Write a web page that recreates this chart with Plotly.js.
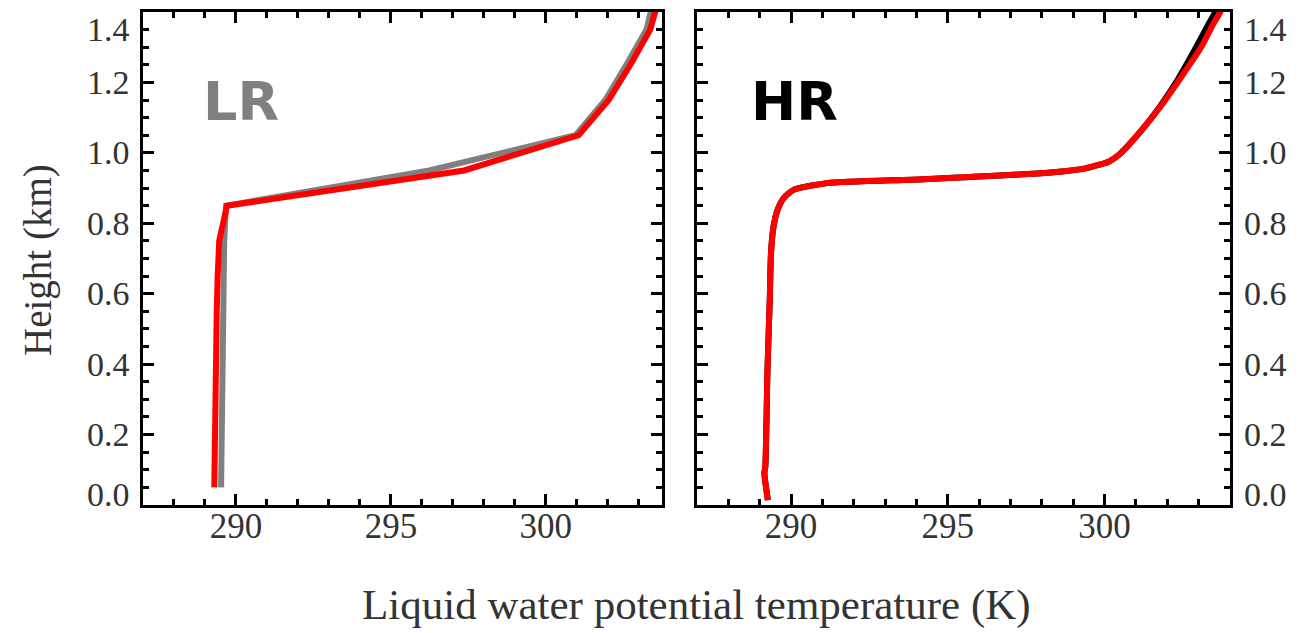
<!DOCTYPE html>
<html><head><meta charset="utf-8">
<script src="https://cdn.plot.ly/plotly-3.0.1.min.js"></script>
<style>html,body{margin:0;padding:0;background:#fff}</style>
</head><body>
<div id="chart" style="width:1304px;height:633px"></div>
<script>
// Low resolution (LR) profiles
const lrHeight = [0.05, 0.15, 0.25, 0.35, 0.45, 0.55, 0.65, 0.75, 0.85, 0.95, 1.05, 1.15, 1.25, 1.35, 1.45];
const lrGrey   = [289.52, 289.53, 289.54, 289.55, 289.56, 289.57, 289.59, 289.62, 289.68, 296.24, 300.96, 301.92, 302.60, 303.25, 303.52];
const lrRed    = [289.30, 289.31, 289.33, 289.34, 289.36, 289.38, 289.41, 289.46, 289.71, 297.36, 301.06, 302.03, 302.73, 303.37, 303.69];

// High resolution (HR) profiles
const hrHeight = [0.014, 0.09, 0.11, 0.39, 0.58, 0.715, 0.79, 0.838, 0.871, 0.895, 0.914, 0.925, 0.944, 0.956, 0.975, 0.994, 1.06, 1.131, 1.212, 1.297, 1.368, 1.40, 1.45];
const hrBlack  = [289.26, 289.15, 289.18, 289.25, 289.32, 289.36, 289.44, 289.57, 289.76, 290.08, 291.15, 294.23, 298.27, 299.39, 300.13, 300.45, 301.14, 301.76, 302.36, 302.90, 303.33, 303.53, 303.78];
const hrRed    = [289.26, 289.15, 289.18, 289.25, 289.32, 289.36, 289.44, 289.57, 289.76, 290.08, 291.15, 294.23, 298.27, 299.39, 300.13, 300.45, 301.14, 301.78, 302.42, 303.06, 303.48, 303.69, 303.95];

const yTickVals = [0.0, 0.2, 0.4, 0.6, 0.8, 1.0, 1.2, 1.4];
const yTickText = ['0.0', '0.2', '0.4', '0.6', '0.8', '1.0', '1.2', '1.4'];
const panelLabels = ['LR', 'HR'];
const xTitle = 'Liquid water potential temperature (K)';
const yTitle = 'Height (km)';

const W = 1304, H = 633;
const serif = 'Liberation Serif, Times New Roman, serif';
const txtCol = '#333333';

const traces = [
  {x: lrGrey, y: lrHeight, xaxis: 'x', yaxis: 'y', mode: 'lines', line: {color: '#808080', width: 6}, hoverinfo: 'skip'},
  {x: lrRed,  y: lrHeight, xaxis: 'x', yaxis: 'y', mode: 'lines', line: {color: '#ff0000', width: 6}, hoverinfo: 'skip'},
  {x: hrBlack, y: hrHeight, xaxis: 'x2', yaxis: 'y2', mode: 'lines', line: {color: '#000000', width: 6, shape: 'spline', smoothing: 0.6}, hoverinfo: 'skip'},
  {x: hrRed,   y: hrHeight, xaxis: 'x2', yaxis: 'y2', mode: 'lines', line: {color: '#ff0000', width: 6, shape: 'spline', smoothing: 0.6}, hoverinfo: 'skip'}
];

function xax(domain, range, anchor) {
  return {
    domain: domain, range: range, anchor: anchor,
    tickmode: 'linear', tick0: 290, dtick: 5,
    ticks: 'inside', ticklen: 11, tickwidth: 3, tickcolor: '#000',
    minor: {tickmode: 'linear', tick0: 0, dtick: 1, ticks: 'inside', ticklen: 6, tickwidth: 3, tickcolor: '#000'},
    showline: true, linewidth: 3, linecolor: '#000', mirror: 'ticks',
    showgrid: false, zeroline: false,
    ticklabelstandoff: -12,
    tickfont: {family: serif, size: 35, color: txtCol}
  };
}
function yax(domain, anchor) {
  return {
    domain: domain, range: [0, 1.4], anchor: anchor,
    tickmode: 'linear', tick0: 0, dtick: 0.2,
    ticks: 'inside', ticklen: 11, tickwidth: 3, tickcolor: '#000',
    minor: {tickmode: 'linear', tick0: 0, dtick: 0.05, ticks: 'inside', ticklen: 6, tickwidth: 3, tickcolor: '#000'},
    showline: true, linewidth: 3, linecolor: '#000', mirror: 'ticks',
    showgrid: false, zeroline: false, showticklabels: false
  };
}

const yDom = [1 - 505 / H, 1 - 12 / H];
const annotations = [];
yTickVals.forEach((v, i) => {
  const shift = v === 0 ? 11 : (Math.abs(v - 1.4) < 1e-9 ? -18 : 0);
  annotations.push({xref: 'paper', yref: 'y', x: 132 / W, y: v, yshift: shift, xanchor: 'right', yanchor: 'middle',
    text: yTickText[i], showarrow: false, font: {family: serif, size: 34, color: txtCol}});
  annotations.push({xref: 'paper', yref: 'y2', x: 1242 / W, y: v, yshift: shift, xanchor: 'left', yanchor: 'middle',
    text: yTickText[i], showarrow: false, font: {family: serif, size: 34, color: txtCol}});
});
annotations.push({xref: 'paper', yref: 'paper', x: 696 / W, y: 1 - 605 / H, xanchor: 'center', yanchor: 'middle',
  text: xTitle, showarrow: false, font: {family: serif, size: 43, color: txtCol}});
annotations.push({xref: 'paper', yref: 'paper', x: 38 / W, y: 1 - 260 / H, xanchor: 'center', yanchor: 'middle',
  text: yTitle, textangle: -90, showarrow: false, font: {family: serif, size: 39, color: txtCol}});
annotations.push({xref: 'paper', yref: 'paper', x: 201 / W, y: 1 - 101 / H, xanchor: 'left', yanchor: 'middle',
  text: '<b>' + panelLabels[0] + '</b>', showarrow: false, font: {family: 'DejaVu Sans', size: 54, color: '#808080'}});
annotations.push({xref: 'paper', yref: 'paper', x: 749 / W, y: 1 - 101 / H, xanchor: 'left', yanchor: 'middle',
  text: '<b>' + panelLabels[1] + '</b>', showarrow: false, font: {family: 'DejaVu Sans', size: 54, color: '#000000'}});

const layout = {
  width: W, height: H,
  margin: {l: 0, r: 0, t: 0, b: 0},
  paper_bgcolor: '#fff', plot_bgcolor: '#fff',
  showlegend: false,
  xaxis: xax([143 / W, 662 / W], [287, 303.75], 'y'),
  yaxis: yax(yDom, 'x'),
  xaxis2: xax([697 / W, 1230 / W], [287, 304], 'y2'),
  yaxis2: yax(yDom, 'x2'),
  annotations: annotations
};

Plotly.newPlot('chart', traces, layout, {displayModeBar: false, staticPlot: true});
</script>
</body></html>
